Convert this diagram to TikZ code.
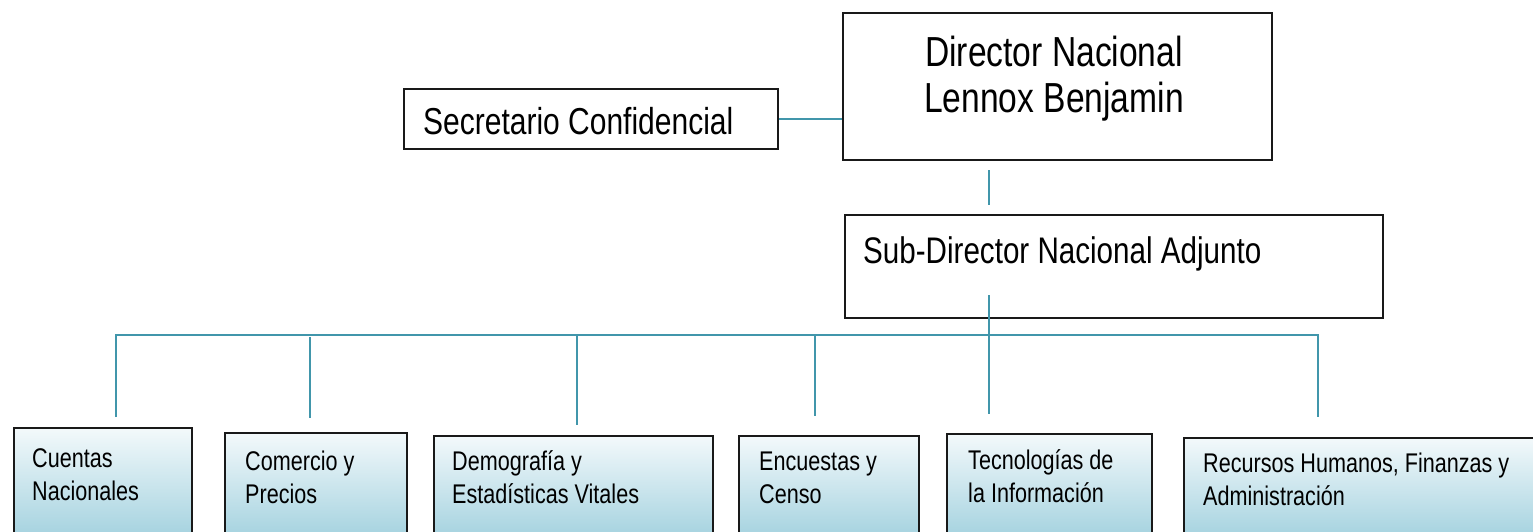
\documentclass[tikz,border=0pt]{standalone}
\usepackage{fontspec}
\setmainfont{Liberation Sans}[FakeStretch=0.8]
\definecolor{conncol}{RGB}{65,150,171}
\definecolor{unittop}{RGB}{243,249,251}
\definecolor{unitbot}{RGB}{158,207,221}
\begin{document}
\begin{tikzpicture}[x=1pt,y=-1pt,
  box/.style={draw=black!90, line width=2pt, inner sep=0pt, anchor=north west},
  unitbox/.style={box, top color=unittop, bottom color=unitbot},
  conn/.style={draw=conncol, line width=1.9pt},
  unittext/.style={inner sep=0pt, anchor=base west, align=left, font=\fontsize{27}{33}\selectfont},
  headtext/.style={inner sep=0pt, anchor=base west, font=\fontsize{37.5}{44}\selectfont}
  ]
\clip (0,0) rectangle (1533,532);
\fill[white] (0,0) rectangle (1533,532);

% top boxes
\node[box, minimum width=374pt, minimum height=60pt] (sec) at (403,88) {};
\node[headtext] (sect) at (423,135) {Secretario Confidencial};
\node[box, minimum width=429pt, minimum height=147pt] (dir) at (842,12) {};
\node[inner sep=0pt, anchor=base, align=center, font=\fontsize{42}{46}\selectfont] (dirt) at (1054,113) {Director Nacional\\Lennox Benjamin};
\node[box, minimum width=538pt, minimum height=103pt] (sub) at (844,214) {};
\node[headtext, font=\fontsize{37}{44}\selectfont] (subt) at (863,263) {Sub-Director Nacional Adjunto};

% unit boxes
\node[unitbox, minimum width=178pt, minimum height=118pt] (b1) at (13,427) {};
\node[unitbox, minimum width=182pt, minimum height=113pt] (b2) at (224,432) {};
\node[unitbox, minimum width=279pt, minimum height=110pt] (b3) at (433,435) {};
\node[unitbox, minimum width=180pt, minimum height=110pt] (b4) at (738,435) {};
\node[unitbox, minimum width=205pt, minimum height=112pt] (b5) at (946,433) {};
\node[unitbox, minimum width=362pt, minimum height=108pt] (b6) at (1183,437) {};
\node[unittext] (t1) at (32,500) {Cuentas\\Nacionales};
\node[unittext] (t2) at (245,503) {Comercio y\\Precios};
\node[unittext] (t3) at (452,503) {Demografía y\\Estadísticas Vitales};
\node[unittext] (t4) at (759,503) {Encuestas y\\Censo};
\node[unittext] (t5) at (968,502) {Tecnologías de\\la Información};
\node[unittext] (t6) at (1203,505) {Recursos Humanos, Finanzas y\\Administración};

% connector coordinates
\coordinate (ds1) at (989,170);
\coordinate (ds2) at (989,205);
\coordinate (sv1) at (989,295);
\coordinate (sv2) at (989,414);
\coordinate (busL) at (116,335);
\coordinate (busR) at (1318,335);
\coordinate (d1) at (116,417);
\coordinate (d2t) at (310,337);
\coordinate (d2) at (310,418);
\coordinate (d3t) at (577,336);
\coordinate (d3) at (577,425);
\coordinate (d4t) at (815,336);
\coordinate (d4) at (815,416);
\coordinate (d6) at (1318,417);

% connectors
\draw[conn] (sec.east) -- (sec.east -| dir.west);
\draw[conn] (ds1) -- (ds2);
\draw[conn] (sv1) -- (sv2);
\draw[conn] (d1) -- (busL) -- (busR) -- (d6);
\draw[conn] (d2t) -- (d2);
\draw[conn] (d3t) -- (d3);
\draw[conn] (d4t) -- (d4);
\end{tikzpicture}
\end{document}
